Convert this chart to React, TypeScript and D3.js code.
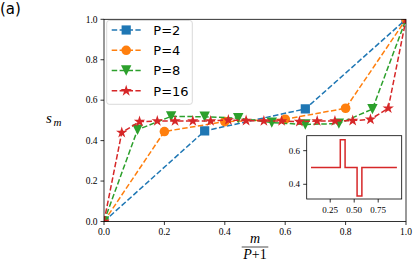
import * as d3 from 'd3';

const P_VALUES = [2, 4, 8, 16];
const S_P2 = [0, 0.448, 0.557, 1];
const S_P4 = [0, 0.445, 0.494, 0.506, 0.56, 1];
const S_P8 = [0, 0.454, 0.52, 0.518, 0.511, 0.489, 0.48, 0.484, 0.556, 1];
const S_P16 = [0, 0.44, 0.494, 0.497, 0.497, 0.497, 0.497, 0.502, 0.499, 0.497, 0.497, 0.494, 0.497, 0.497, 0.499, 0.505, 0.56, 1];
const SERIES = [S_P2, S_P4, S_P8, S_P16];
const COLORS = ['#1f77b4', '#ff7f0e', '#2ca02c', '#d62728'];
const MARKERS = ['square', 'circle', 'triangle', 'star'];

const MAIN_TICKS = [0, 0.2, 0.4, 0.6, 0.8, 1.0];

// inset: step profile
const INSET_X = [0.05, 0.355, 0.405, 0.53, 0.58, 0.945];
const INSET_Y = [0.5, 0.665, 0.5, 0.33, 0.5, 0.5];
const INSET_XTICKS = [0.25, 0.5, 0.75];
const INSET_YTICKS = [0.4, 0.6];

const W = 415;
const H = 277;
const serif = '"Liberation Serif", "DejaVu Serif", serif';
const sans = '"DejaVu Sans", sans-serif';

function markerPath(kind: string, size = 1) {
  if (kind === 'square') {
    const s = 4.6 * size;
    return `M${-s},${-s}H${s}V${s}H${-s}Z`;
  }
  if (kind === 'circle') {
    const r = 4.8 * size;
    return `M${r},0A${r},${r} 0 1,1 ${-r},0A${r},${r} 0 1,1 ${r},0Z`;
  }
  if (kind === 'triangle') {
    const r = 5.2 * size;
    return `M${-r},${-r}L${r},${-r}L0,${r}Z`;
  }
  // star
  const R = 6 * size;
  const r = R * 0.382;
  const pts: string[] = [];
  for (let i = 0; i < 10; i++) {
    const a = -Math.PI / 2 + (i * Math.PI) / 5;
    const rad = i % 2 === 0 ? R : r;
    pts.push(`${(rad * Math.cos(a)).toFixed(2)},${(rad * Math.sin(a)).toFixed(2)}`);
  }
  return `M${pts.join('L')}Z`;
}

export default function App() {
  const x = d3.scaleLinear().domain([0, 1]).range([104, 406]);
  const y = d3.scaleLinear().domain([0, 1]).range([221.5, 19.3]);

  const line = d3.line<[number, number]>()
    .x((d) => x(d[0]))
    .y((d) => y(d[1]));

  const xi = d3.scaleLinear().domain([0.005, 0.995]).range([306.7, 401.7]);
  const yi = d3.scaleLinear().domain([0.3125, 0.689]).range([199, 135.7]);
  const insetLine = d3.line<[number, number]>()
    .x((d) => xi(d[0]))
    .y((d) => yi(d[1]))
    .curve(d3.curveStepAfter);
  const insetPts = INSET_X.map((v, i) => [v, INSET_Y[i]] as [number, number]);

  const legendY = [30, 50.3, 70.5, 90.8];

  return (
    <svg width={W} height={H} style={{ position: 'absolute', left: 0, top: 0, background: '#fff' }}>
      <defs>
        <clipPath id="plot">
          <rect x={104} y={19.3} width={302} height={202.2} />
        </clipPath>
      </defs>
      <text x={0} y={14} fontFamily={sans} fontSize={15}>(a)</text>

      <g clipPath="url(#plot)">
        {SERIES.map((vals, si) => {
          const P = P_VALUES[si];
          const pts = vals.map((v, m) => [m / (P + 1), v] as [number, number]);
          return (
            <g key={si}>
              <path d={line(pts) ?? ''} fill="none" stroke={COLORS[si]} strokeWidth={1.5} strokeDasharray="5.5 2.4" />
              {pts.map((p, j) => (
                <path key={j} d={markerPath(MARKERS[si])} transform={`translate(${x(p[0])},${y(p[1])})`} fill={COLORS[si]} />
              ))}
            </g>
          );
        })}
      </g>

      <rect x={104} y={19.3} width={302} height={202.2} fill="none" stroke="#000" strokeWidth={0.8} />
      {MAIN_TICKS.map((t) => (
        <g key={`x${t}`}>
          <line x1={x(t)} x2={x(t)} y1={221.5} y2={225} stroke="#000" strokeWidth={0.8} />
          <text x={x(t)} y={235} textAnchor="middle" fontFamily={serif} fontSize={9.5}>{t.toFixed(1)}</text>
          <line x1={100.5} x2={104} y1={y(t)} y2={y(t)} stroke="#000" strokeWidth={0.8} />
          <text x={97.5} y={y(t) + 3.3} textAnchor="end" fontFamily={serif} fontSize={9.5}>{t.toFixed(1)}</text>
        </g>
      ))}

      {/* axis labels */}
      <text x={46} y={123} fontFamily={serif} fontStyle="italic" fontSize={15}>s</text>
      <text x={53.5} y={126} fontFamily={serif} fontStyle="italic" fontSize={11}>m</text>
      <text x={255} y={243} textAnchor="middle" fontFamily={serif} fontStyle="italic" fontSize={14}>m</text>
      <line x1={241.7} x2={268.3} y1={247} y2={247} stroke="#000" strokeWidth={0.7} />
      <text x={255} y={258.5} textAnchor="middle" fontFamily={serif} fontSize={14}>
        <tspan fontStyle="italic">P</tspan>+1
      </text>

      {/* legend */}
      <rect x={106.7} y={20.5} width={85.6} height={83.8} rx={2.5} fill="#fff" fillOpacity={0.8} stroke="#d0d0d0" strokeWidth={0.8} />
      {P_VALUES.map((P, i) => (
        <g key={P}>
          <line x1={111.7} x2={140.7} y1={legendY[i]} y2={legendY[i]} stroke={COLORS[i]} strokeWidth={1.5} strokeDasharray="5.5 2.4" />
          <path d={markerPath(MARKERS[i])} transform={`translate(126.2,${legendY[i]})`} fill={COLORS[i]} />
          <text x={153.3} y={legendY[i] + 4.7} fontFamily={sans} fontSize={13}>{`P=${P}`}</text>
        </g>
      ))}

      {/* inset */}
      <rect x={306.7} y={135.7} width={95} height={63.3} fill="#fff" stroke="#000" strokeWidth={0.8} />
      <path d={insetLine(insetPts) ?? ''} fill="none" stroke="#d62728" strokeWidth={1.5} />
      {INSET_XTICKS.map((t) => (
        <g key={`ix${t}`}>
          <line x1={xi(t)} x2={xi(t)} y1={199} y2={202.5} stroke="#000" strokeWidth={0.8} />
          <text x={xi(t)} y={212.5} textAnchor="middle" fontFamily={serif} fontSize={9}>{t.toFixed(2)}</text>
        </g>
      ))}
      {INSET_YTICKS.map((t) => (
        <g key={`iy${t}`}>
          <line x1={303.2} x2={306.7} y1={yi(t)} y2={yi(t)} stroke="#000" strokeWidth={0.8} />
          <text x={300} y={yi(t) + 3.2} textAnchor="end" fontFamily={serif} fontSize={9}>{t.toFixed(1)}</text>
        </g>
      ))}
    </svg>
  );
}
